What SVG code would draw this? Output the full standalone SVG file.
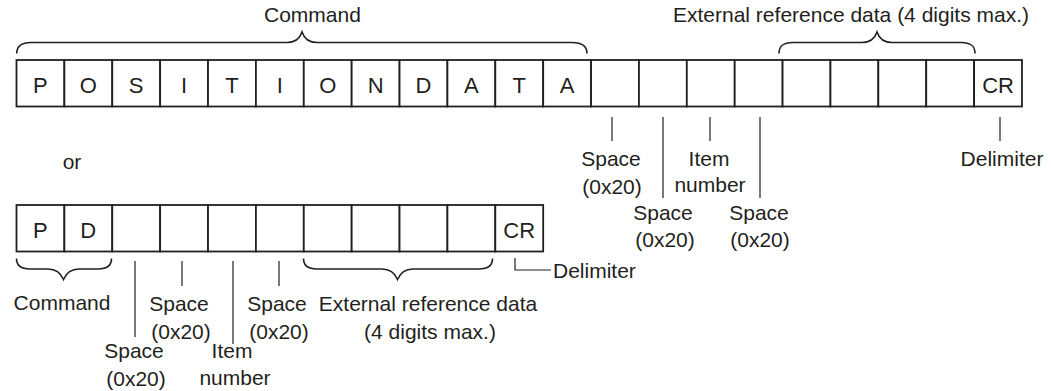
<svg xmlns="http://www.w3.org/2000/svg" width="1051" height="391" viewBox="0 0 1051 391">
<style>
.bg{fill:#ffffff}
.cell rect{fill:#ffffff;stroke:#231f20;stroke-width:1.8}
.ch{font-family:"Liberation Sans",Arial,sans-serif;font-size:22px;fill:#231f20;text-anchor:middle}
.lbl{font-family:"Liberation Sans",Arial,sans-serif;font-size:21px;fill:#231f20}
.mid{text-anchor:middle}
.brace{fill:none;stroke:#231f20;stroke-width:1.6}
.lead{fill:none;stroke:#231f20;stroke-width:1.2}
</style>
<rect class="bg" x="0" y="0" width="1051" height="391"/>

<g id="row1">
<g id="r1c0" class="cell"><rect x="16.5" y="60" width="47.88" height="46.5"/><text class="ch" x="40.44" y="92.5">P</text></g>
<g id="r1c1" class="cell"><rect x="64.38" y="60" width="47.88" height="46.5"/><text class="ch" x="88.32" y="92.5">O</text></g>
<g id="r1c2" class="cell"><rect x="112.26" y="60" width="47.88" height="46.5"/><text class="ch" x="136.2" y="92.5">S</text></g>
<g id="r1c3" class="cell"><rect x="160.14" y="60" width="47.88" height="46.5"/><text class="ch" x="184.08" y="92.5">I</text></g>
<g id="r1c4" class="cell"><rect x="208.02" y="60" width="47.88" height="46.5"/><text class="ch" x="231.96" y="92.5">T</text></g>
<g id="r1c5" class="cell"><rect x="255.9" y="60" width="47.88" height="46.5"/><text class="ch" x="279.84" y="92.5">I</text></g>
<g id="r1c6" class="cell"><rect x="303.78" y="60" width="47.88" height="46.5"/><text class="ch" x="327.72" y="92.5">O</text></g>
<g id="r1c7" class="cell"><rect x="351.66" y="60" width="47.88" height="46.5"/><text class="ch" x="375.6" y="92.5">N</text></g>
<g id="r1c8" class="cell"><rect x="399.54" y="60" width="47.88" height="46.5"/><text class="ch" x="423.48" y="92.5">D</text></g>
<g id="r1c9" class="cell"><rect x="447.42" y="60" width="47.88" height="46.5"/><text class="ch" x="471.36" y="92.5">A</text></g>
<g id="r1c10" class="cell"><rect x="495.3" y="60" width="47.88" height="46.5"/><text class="ch" x="519.24" y="92.5">T</text></g>
<g id="r1c11" class="cell"><rect x="543.18" y="60" width="47.88" height="46.5"/><text class="ch" x="567.12" y="92.5">A</text></g>
<g id="r1c12" class="cell"><rect x="591.06" y="60" width="47.88" height="46.5"/></g>
<g id="r1c13" class="cell"><rect x="638.94" y="60" width="47.88" height="46.5"/></g>
<g id="r1c14" class="cell"><rect x="686.82" y="60" width="47.88" height="46.5"/></g>
<g id="r1c15" class="cell"><rect x="734.7" y="60" width="47.88" height="46.5"/></g>
<g id="r1c16" class="cell"><rect x="782.58" y="60" width="47.88" height="46.5"/></g>
<g id="r1c17" class="cell"><rect x="830.46" y="60" width="47.88" height="46.5"/></g>
<g id="r1c18" class="cell"><rect x="878.34" y="60" width="47.88" height="46.5"/></g>
<g id="r1c19" class="cell"><rect x="926.22" y="60" width="47.88" height="46.5"/></g>
<g id="r1c20" class="cell"><rect x="974.1" y="60" width="47.88" height="46.5"/><text class="ch" x="998.04" y="92.5">CR</text></g>
</g>

<g id="row2">
<g id="r2c0" class="cell"><rect x="16.5" y="205" width="47.88" height="46.5"/><text class="ch" x="40.44" y="237.5">P</text></g>
<g id="r2c1" class="cell"><rect x="64.38" y="205" width="47.88" height="46.5"/><text class="ch" x="88.32" y="237.5">D</text></g>
<g id="r2c2" class="cell"><rect x="112.26" y="205" width="47.88" height="46.5"/></g>
<g id="r2c3" class="cell"><rect x="160.14" y="205" width="47.88" height="46.5"/></g>
<g id="r2c4" class="cell"><rect x="208.02" y="205" width="47.88" height="46.5"/></g>
<g id="r2c5" class="cell"><rect x="255.9" y="205" width="47.88" height="46.5"/></g>
<g id="r2c6" class="cell"><rect x="303.78" y="205" width="47.88" height="46.5"/></g>
<g id="r2c7" class="cell"><rect x="351.66" y="205" width="47.88" height="46.5"/></g>
<g id="r2c8" class="cell"><rect x="399.54" y="205" width="47.88" height="46.5"/></g>
<g id="r2c9" class="cell"><rect x="447.42" y="205" width="47.88" height="46.5"/></g>
<g id="r2c10" class="cell"><rect x="495.3" y="205" width="47.88" height="46.5"/><text class="ch" x="519.24" y="237.5">CR</text></g>
</g>

<g id="connectors">
<path class="brace" d="M16.7,53.5 C16.7,46 21,42.5 31,42.5 L287,42.5 C296,42.5 300,38 302,32 C304,38 308,42.5 317,42.5 L572,42.5 C582,42.5 587,46 587,53.5"/>
<path class="brace" d="M779,53.5 C779,46 783,42.5 793,42.5 L862,42.5 C871,42.5 875,38 877,32 C879,38 883,42.5 892,42.5 L961,42.5 C971,42.5 975,46 975,53.5"/>
<path class="brace" d="M16.5,258.5 C16.5,265.5 20.5,269 30,269 L48,269 C57,269 61,273.5 63.5,279.5 C66,273.5 70,269 79,269 L98,269 C107.5,269 111.5,265.5 111.5,258.5"/>
<path class="brace" d="M303.5,258.5 C303.5,265.5 307.5,269 317,269 L382,269 C391,269 395,273.5 397.5,279.5 C400,273.5 404,269 413,269 L479,269 C488.5,269 492.5,265.5 492.5,258.5"/>
<line class="lead" x1="612" y1="117" x2="612" y2="141"/>
<line class="lead" x1="663" y1="117" x2="663" y2="198"/>
<line class="lead" x1="710" y1="117" x2="710" y2="141"/>
<line class="lead" x1="760" y1="117" x2="760" y2="198"/>
<line class="lead" x1="1000" y1="117" x2="1000" y2="141"/>
<line class="lead" x1="135" y1="261" x2="135" y2="337"/>
<line class="lead" x1="182" y1="261" x2="182" y2="286"/>
<line class="lead" x1="233" y1="261" x2="233" y2="344"/>
<line class="lead" x1="279" y1="261" x2="279" y2="286"/>
<polyline class="lead" points="515,258 515,270 551,270"/>
</g>

<g id="labels">
<text class="lbl" x="264" y="22">Command</text>
<text class="lbl" x="673" y="22">External reference data (4 digits max.)</text>
<text class="lbl mid" x="611" y="166">Space</text>
<text class="lbl mid" x="612" y="194">(0x20)</text>
<text class="lbl mid" x="709" y="166">Item</text>
<text class="lbl mid" x="710" y="192">number</text>
<text class="lbl mid" x="1002" y="166">Delimiter</text>
<text class="lbl mid" x="663" y="220">Space</text>
<text class="lbl mid" x="665" y="247">(0x20)</text>
<text class="lbl mid" x="759" y="220">Space</text>
<text class="lbl mid" x="760" y="247">(0x20)</text>
<text class="lbl mid" x="72" y="169">or</text>
<text class="lbl" x="553" y="278">Delimiter</text>
<text class="lbl mid" x="62" y="310">Command</text>
<text class="lbl mid" x="179" y="311">Space</text>
<text class="lbl mid" x="181" y="339">(0x20)</text>
<text class="lbl mid" x="277" y="311">Space</text>
<text class="lbl mid" x="279" y="339">(0x20)</text>
<text class="lbl mid" x="428" y="311">External reference data</text>
<text class="lbl mid" x="430" y="339">(4 digits max.)</text>
<text class="lbl mid" x="134" y="358">Space</text>
<text class="lbl mid" x="136" y="386">(0x20)</text>
<text class="lbl mid" x="232" y="358">Item</text>
<text class="lbl mid" x="235" y="385">number</text>
</g>
</svg>
